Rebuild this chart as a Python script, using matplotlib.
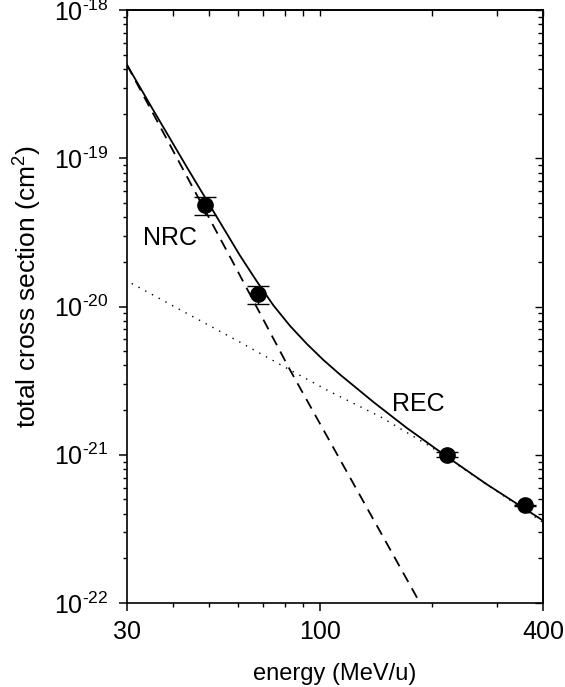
import numpy as np
import matplotlib.pyplot as plt
from matplotlib.ticker import LogLocator, FixedLocator, NullFormatter

plt.rcParams['font.family'] = ['Liberation Sans', 'DejaVu Sans']
plt.rcParams['mathtext.fontset'] = 'custom'
plt.rcParams['mathtext.rm'] = 'Liberation Sans'
plt.rcParams['mathtext.it'] = 'Liberation Sans:italic'

# measured points
energy = [48.7, 67.9, 220.0, 358.0]
sigma = [4.84e-20, 1.215e-20, 1.0e-21, 4.55e-22]
err_lo = [0.70e-20, 0.175e-20, 0.04e-21, 0.02e-22]
err_hi = [0.66e-20, 0.16e-20, 0.04e-21, 0.02e-22]

# total (NRC + REC) theory curve
tot_e = [30, 35.3, 43.5, 60.6, 67.3, 74.6, 82.8, 91.9, 101.9, 113.1,
         139.1, 171.1, 220, 281, 400]
tot_s = [4.26e-19, 2.12e-19, 8.75e-20, 2.21e-20, 1.48e-20, 1.02e-20,
         7.4e-21, 5.6e-21, 4.36e-21, 3.47e-21, 2.27e-21, 1.52e-21,
         0.97e-21, 6.35e-22, 3.6e-22]

# NRC
nrc_e = [30, 58.2, 82.8, 186]
nrc_s = [4.26e-19, 1.96e-20, 3.73e-21, 1.0e-22]

# REC
rec_e = [30.9, 60.6, 82.8, 106.3, 145, 198, 400]
rec_s = [1.43e-20, 5.75e-21, 3.73e-21, 2.66e-21, 1.81e-21, 1.14e-21, 3.5e-22]

fig = plt.figure(figsize=(5.65, 6.87), dpi=100)
ax = fig.add_axes([0.2248, 0.1223, 0.7362, 0.8631])

ax.plot(tot_e, tot_s, '-', color='black', lw=1.3)
ax.plot(nrc_e, nrc_s, '--', color='black', lw=1.3, dashes=(6, 4))
ax.plot(rec_e, rec_s, ':', color='black', lw=1.0, dashes=(1, 4.5))
ax.errorbar(energy, sigma, yerr=[err_lo, err_hi], fmt='o', color='black',
            ms=11, capsize=8, elinewidth=1.0, capthick=1.0)

ax.set_xscale('log')
ax.set_yscale('log')
ax.set_xlim(30, 400)
ax.set_ylim(1e-22, 1e-18)

ax.xaxis.set_major_locator(FixedLocator([30, 100, 400]))
ax.xaxis.set_minor_locator(FixedLocator([40, 50, 60, 70, 80, 90, 200, 300]))
ax.set_xticklabels(['30', '100', '400'])
ax.xaxis.set_minor_formatter(NullFormatter())
ax.yaxis.set_major_locator(FixedLocator([1e-22, 1e-21, 1e-20, 1e-19, 1e-18]))
ax.yaxis.set_minor_locator(LogLocator(base=10, subs=np.arange(2, 10), numticks=20))
ax.yaxis.set_minor_formatter(NullFormatter())
ax.set_yticklabels(['10$^{\\mathregular{\u201022}}$', '10$^{\\mathregular{\u201021}}$',
                    '10$^{\\mathregular{\u201020}}$', '10$^{\\mathregular{\u201019}}$',
                    '10$^{\\mathregular{\u201018}}$'])

ax.tick_params(which='major', direction='out', length=6, width=1.1, labelsize=18, pad=6)
ax.tick_params(which='minor', direction='out', length=3.2, width=1.0)
ax.tick_params(axis='y', which='major', pad=7)
for s in ax.spines.values():
    s.set_linewidth(1.2)

# inward ticks on top and right
ax_t = ax.secondary_xaxis('top')
ax_t.xaxis.set_major_locator(FixedLocator([30, 100, 400]))
ax_t.xaxis.set_minor_locator(FixedLocator([40, 50, 60, 70, 80, 90, 200, 300]))
ax_t.tick_params(which='both', direction='in', length=4, width=1.0, labeltop=False)
ax_t.spines['top'].set_linewidth(1.2)

ax_r = ax.secondary_yaxis('right')
ax_r.yaxis.set_major_locator(FixedLocator([1e-22, 1e-21, 1e-20, 1e-19, 1e-18]))
ax_r.yaxis.set_minor_locator(LogLocator(base=10, subs=np.arange(2, 10), numticks=20))
ax_r.tick_params(which='major', direction='in', length=6, width=1.0, labelright=False)
ax_r.tick_params(which='minor', direction='in', length=3.5, width=1.0, labelright=False)
ax_r.spines['right'].set_linewidth(1.2)

ax.set_xlabel('energy (MeV/u)', fontsize=17, labelpad=14)
ax.set_ylabel('total cross section (cm$^{\\mathregular{2}}$)', fontsize=19)
ax.yaxis.set_label_coords(-0.199, 0.534)

ax.text(33.1, 2.9e-20, 'NRC', fontsize=18, va='center', ha='left')
ax.text(156, 2.2e-21, 'REC', fontsize=18, va='center', ha='left')

fig.savefig('out.png', dpi=100)
